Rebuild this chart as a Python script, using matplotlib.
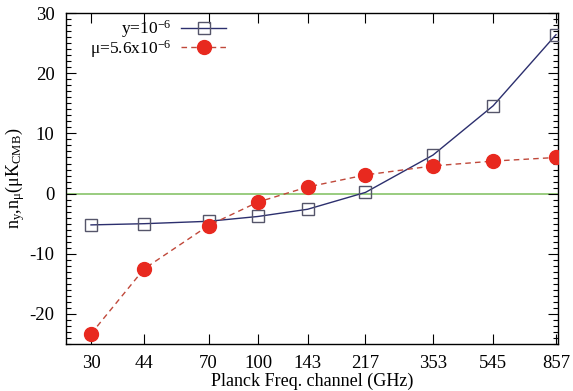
import matplotlib
matplotlib.use("Agg")
import matplotlib.pyplot as plt
from matplotlib.ticker import FixedLocator, NullLocator, MultipleLocator

plt.rcParams['font.family'] = ['Liberation Serif', 'DejaVu Serif']
plt.rcParams['mathtext.fontset'] = 'custom'
plt.rcParams['mathtext.rm'] = 'Liberation Serif'
plt.rcParams['mathtext.it'] = 'Liberation Serif:italic'
plt.rcParams['axes.unicode_minus'] = False

freqs = [30, 44, 70, 100, 143, 217, 353, 545, 857]
freq_labels = ['30', '44', '70', '100', '143', '217', '353', '545', '857']
y_dist = [-5.2, -5.0, -4.6, -3.8, -2.6, 0.2, 6.4, 14.6, 26.4]
mu_dist = [-23.3, -12.5, -5.3, -1.4, 1.1, 3.1, 4.6, 5.4, 6.0]

fig = plt.figure(figsize=(5.73, 3.91), dpi=100)
ax = fig.add_axes([0.1147, 0.12, 0.974 - 0.1147, 0.9667 - 0.12])

ax.axhline(0, color='#88c46a', lw=1.2, zorder=1)
ax.plot(freqs, y_dist, color='#2c2f6e', lw=1.0, marker='s', ms=9,
        mfc='none', mec='#55556a', mew=1.0, label='y=10$^{\\mathrm{-6}}$', zorder=3)
ax.plot(freqs, mu_dist, color='#c0483a', lw=1.0, ls=(0, (4, 3)), marker='o', ms=10,
        mfc='#e8291f', mec='#e8291f', label='μ=5.6x10$^{\\mathrm{-6}}$', zorder=4)

ax.set_xscale('log')
ax.set_xlim(25, 870)
ax.set_ylim(-25, 30)
ax.xaxis.set_major_locator(FixedLocator(freqs))
ax.set_xticklabels(freq_labels)
ax.xaxis.set_minor_locator(NullLocator())
ax.yaxis.set_major_locator(MultipleLocator(10))
ax.yaxis.set_minor_locator(MultipleLocator(1))
ax.tick_params(which='both', direction='in', top=True, right=True, labelsize=13.5, pad=8)
ax.tick_params(which='major', length=7, width=0.8)
ax.tick_params(which='minor', length=3.5, width=0.8)
for s in ax.spines.values():
    s.set_linewidth(1.0)

ax.set_xlabel('Planck Freq. channel (GHz)', fontsize=13, labelpad=0)
ax.set_ylabel('n$_{\\mathrm{y}}$,n$_{\\mathrm{μ}}$(μK$_{\\mathrm{CMB}}$)', fontsize=13, labelpad=2)

leg = ax.legend(loc='upper right', bbox_to_anchor=(0.326, 0.985), frameon=False, fontsize=12.5,
                markerfirst=False, handlelength=2.6, handletextpad=0.55,
                labelspacing=-0.12, borderaxespad=0.0, borderpad=0.0)
for t in leg.get_texts():
    t.set_ha('right')

fig.savefig('out.png', dpi=100)
